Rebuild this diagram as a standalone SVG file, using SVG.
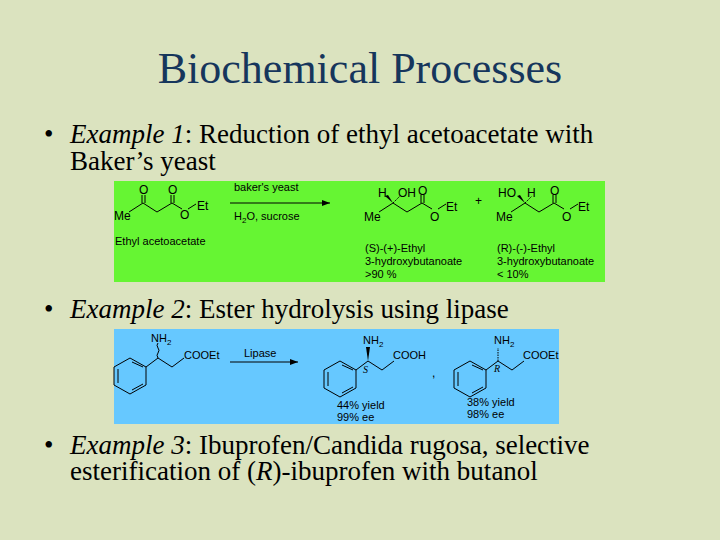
<svg xmlns="http://www.w3.org/2000/svg" width="720" height="540" viewBox="0 0 720 540">
<style>
.t{font-family:"Liberation Sans",serif;font-size:27px;fill:#000}
.t{font-family:"Liberation Serif",serif}
.c{font-family:"Liberation Sans",sans-serif;font-size:12px;fill:#000}
.s{font-family:"Liberation Sans",sans-serif;font-size:11px;fill:#000}
.b{stroke:#000;stroke-width:1;fill:none}
</style>
<defs><marker id="ah" markerWidth="8" markerHeight="6" refX="8" refY="3" orient="auto"><path d="M0,0L8,3L0,6z" fill="#000"/></marker></defs>
<rect width="720" height="540" fill="#dbe3bf"/>
<text x="360" y="83" text-anchor="middle" font-family="Liberation Serif,serif" font-size="44" fill="#16365c">Biochemical Processes</text>
<g id="ex1"><text class="t" x="44" y="143">•</text><text class="t" x="70" y="143"><tspan font-style="italic">Example 1</tspan>: Reduction of ethyl acetoacetate with</text>
<text class="t" x="70" y="170">Baker’s yeast</text></g>
<g id="ex2"><text class="t" x="44" y="318">•</text><text class="t" x="70" y="318"><tspan font-style="italic">Example 2</tspan>: Ester hydrolysis using lipase</text></g>
<g id="ex3"><text class="t" x="44" y="454">•</text><text class="t" x="70" y="454"><tspan font-style="italic">Example 3</tspan>: Ibuprofen/Candida rugosa, selective</text>
<text class="t" x="70" y="480">esterification of (<tspan font-style="italic">R</tspan>)-ibuprofen with butanol</text></g>
<g id="scheme1">
<rect x="114" y="181" width="491" height="101" fill="#66f533"/>
<path class="b" d="M129,212L143,203L157,212L172,203L182,209M188,209L196,204M142,203V195M145,203V195M171,203V195M174,203V195"/>
<text class="c" x="114" y="220">Me</text><text class="c" x="139" y="194">O</text><text class="c" x="168" y="194">O</text><text class="c" x="180" y="219">O</text><text class="c" x="197" y="210">Et</text>
<text class="s" x="115" y="245">Ethyl acetoacetate</text>
<path class="b" d="M230,203H330" marker-end="url(#ah)"/>
<text class="s" x="234" y="191">baker's yeast</text><text class="s" x="234" y="220">H<tspan font-size="8" dy="3">2</tspan><tspan dy="-3">O, sucrose</tspan></text>
<path class="b" d="M379,212L393,203L407,212L422,203L432,209M438,209L446,204M421,203V195M424,203V195"/>
<path d="M393,203L385,196L388,195z" fill="#000"/><path class="b" d="M393,203L400,196" stroke-dasharray="1.5,1"/>
<text class="c" x="364" y="221">Me</text><text class="c" x="378" y="197">H</text><text class="c" x="398" y="197">OH</text><text class="c" x="418" y="195">O</text><text class="c" x="430" y="221">O</text><text class="c" x="446" y="211">Et</text>
<text class="c" x="475" y="205">+</text>
<path class="b" d="M511,212L525,203L539,212L554,203L564,209M570,209L578,204M553,203V195M556,203V195"/>
<path d="M525,203L517,196L520,195z" fill="#000"/><path class="b" d="M525,203L532,196" stroke-dasharray="1.5,1"/>
<text class="c" x="496" y="221">Me</text><text class="c" x="498" y="197">HO</text><text class="c" x="527" y="197">H</text><text class="c" x="550" y="195">O</text><text class="c" x="562" y="221">O</text><text class="c" x="578" y="211">Et</text>
<text class="s" x="365" y="252">(S)-(+)-Ethyl</text><text class="s" x="365" y="265">3-hydroxybutanoate</text><text class="s" x="365" y="278">&gt;90 %</text>
<text class="s" x="497" y="252">(R)-(-)-Ethyl</text><text class="s" x="497" y="265">3-hydroxybutanoate</text><text class="s" x="497" y="278">&lt; 10%</text>
</g>
<g id="scheme2">
<rect x="114" y="329" width="445" height="95" fill="#66c8ff"/>
<path class="b" d="M146,367L146,385L130,394L114,385L114,367L130,358Z M118,369V383M132,390L143,384M132,362L143,367"/>
<path class="b" d="M146,367L158,358L172,367L184,358M158,358q-2,-3 0,-5q2,-3 0,-5q-2,-3 0,-5"/>
<text class="s" x="151" y="342">NH<tspan font-size="8" dy="3">2</tspan></text><text class="s" x="184" y="359">COOEt</text>
<path class="b" d="M230,362H298" marker-end="url(#ah)"/><text class="s" x="244" y="357">Lipase</text>
<path class="b" d="M356,370L356,388L340,397L324,388L324,370L340,361Z M328,372V386M342,393L353,387M342,365L353,370"/>
<path class="b" d="M356,370L368,361L382,370L394,361"/><path d="M368,361L366,347L370,347z" fill="#000"/>
<text class="s" x="363" y="344">NH<tspan font-size="8" dy="3">2</tspan></text><text class="s" x="393" y="359">COOH</text>
<text x="363" y="373" font-family="Liberation Serif,serif" font-style="italic" font-size="10">S</text>
<text class="c" x="432" y="377">,</text>
<path class="b" d="M486,370L486,388L470,397L454,388L454,370L470,361Z M458,372V386M472,393L483,387M472,365L483,370"/>
<path class="b" d="M486,370L498,361L512,370L524,361"/><path class="b" d="M498,361V348" stroke-dasharray="1.5,1"/>
<text class="s" x="494" y="344">NH<tspan font-size="8" dy="3">2</tspan></text><text class="s" x="523" y="359">COOEt</text>
<text x="494" y="372" font-family="Liberation Serif,serif" font-style="italic" font-size="10">R</text>
<text class="s" x="337" y="409">44% yield</text><text class="s" x="337" y="421">99% ee</text>
<text class="s" x="467" y="406">38% yield</text><text class="s" x="467" y="418">98% ee</text>
</g>
</svg>
